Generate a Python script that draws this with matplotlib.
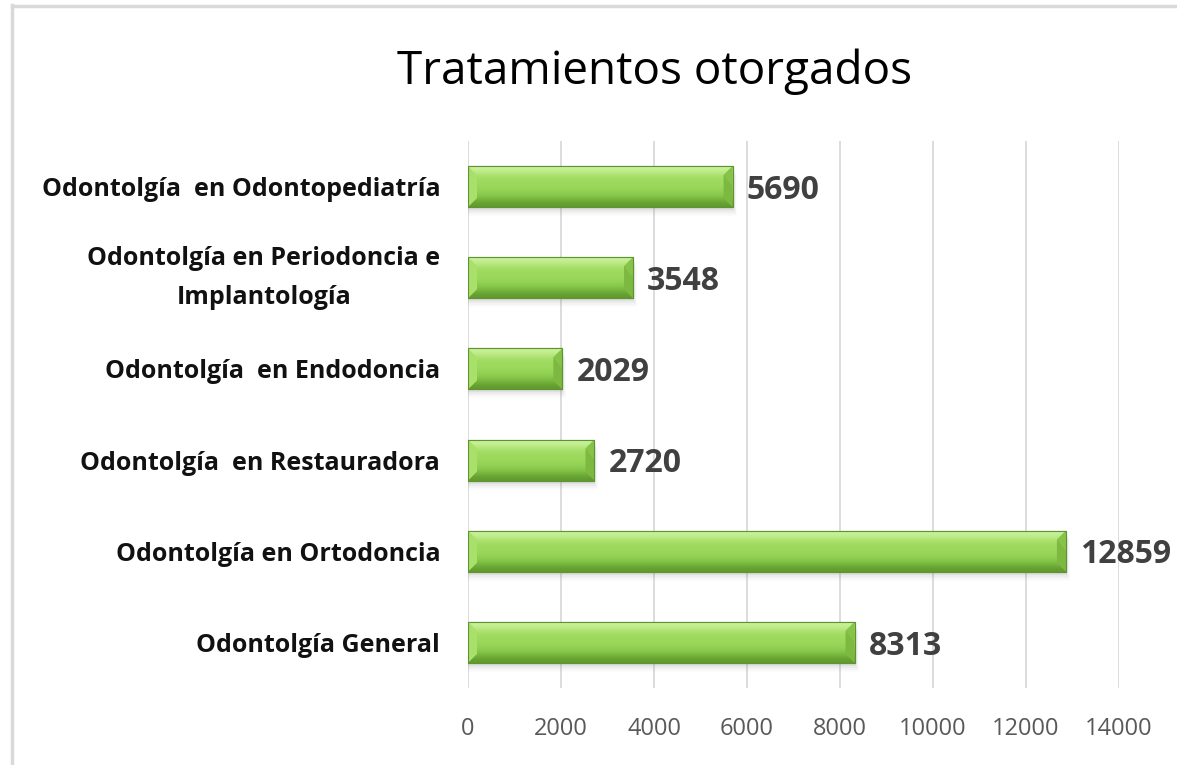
import matplotlib
matplotlib.use("Agg")
import matplotlib.pyplot as plt
import numpy as np
from matplotlib.patches import Polygon, Rectangle
from matplotlib.lines import Line2D

categories = ["Odontolgía General", "Odontolgía en Ortodoncia", "Odontolgía  en Restauradora",
              "Odontolgía  en Endodoncia", "Odontolgía en Periodoncia e\nImplantología",
              "Odontolgía  en Odontopediatría"]
values = [8313, 12859, 2720, 2029, 3548, 5690]
xticks = [0, 2000, 4000, 6000, 8000, 10000, 12000, 14000]
title = "Tratamientos otorgados"

W, H = 1177, 765
fig = plt.figure(figsize=(W / 100, H / 100), dpi=100)
fig.patch.set_facecolor("white")

# outer border (top and left light gray)
fig.add_artist(Line2D([11.5 / W, 11.5 / W], [0, 1 - 5 / H], color="#d9d9d9", lw=2.5, transform=fig.transFigure))
fig.add_artist(Line2D([11.5 / W, 1], [1 - 5.5 / H, 1 - 5.5 / H], color="#d9d9d9", lw=2.5, transform=fig.transFigure))

left, right, top, bottom = 468, 1119, 141, 688
ax = fig.add_axes([left / W, 1 - bottom / H, (right - left) / W, (bottom - top) / H])
ax.set_xlim(0, 14000)
ax.set_ylim(-0.5, len(categories) - 0.5)
for s in ax.spines.values():
    s.set_visible(False)
ax.set_xticks(xticks)
ax.set_xticklabels([str(t) for t in xticks], fontsize=17, color="#595959", family="Open Sans")
ax.tick_params(axis="x", length=0, pad=21)
ax.tick_params(axis="y", length=0, pad=20)
ax.grid(axis="x", color="#d9d9d9", lw=1.3)
ax.set_axisbelow(True)
ax.set_yticks(range(len(categories)))
ax.set_yticklabels(categories, fontsize=18, fontweight="bold", color="#111111",
                   family="Open Sans", ha="right", multialignment="center", linespacing=1.75)
for lab in ax.get_yticklabels():
    if "\n" in lab.get_text():
        lab.set_va("center")

bh = 0.45
px_x = 14000 / (right - left)
px_y = 6.0 / (bottom - top)
bars = ax.barh(range(len(categories)), values, height=bh, color="#9bd85a",
               edgecolor="#6a9e35", linewidth=0.8, zorder=3)

# gradient colors (top to bottom)
grad = np.array([
    [0.80, 0.95, 0.62],
    [0.72, 0.91, 0.50],
    [0.63, 0.86, 0.38],
    [0.61, 0.85, 0.36],
    [0.60, 0.84, 0.35],
    [0.55, 0.80, 0.31],
    [0.47, 0.72, 0.24],
    [0.38, 0.60, 0.18],
])
gimg = grad[:, None, :]

for i, (b, v) in enumerate(zip(bars, values)):
    y0 = i - bh / 2
    y1 = i + bh / 2
    # shadow
    for k, a in enumerate([0.10, 0.07, 0.05, 0.03]):
        off = (3 + 2 * k) * px_y
        ax.add_patch(Rectangle((0, y0 - off), v + (1 + k) * px_x, bh, color="#808080",
                               alpha=a, lw=0, zorder=2))
    im = ax.imshow(gimg, extent=[0, v, y0, y1], origin="upper", aspect="auto",
                   interpolation="bicubic", zorder=3.5)
    im.set_clip_path(b)
    bx = 9 * px_x
    by = 9 * px_y
    # right bevel
    ax.add_patch(Polygon([[v - bx, y0 + by], [v, y0], [v, y1], [v - bx, y1 - by]],
                         closed=True, color="#7db941", lw=0, zorder=4))
    ax.add_patch(Polygon([[v - bx, y1 - by], [v, y1], [v, y0 + (y1 - y0) * 0.5]],
                         closed=True, color="#8fca4f", lw=0, zorder=4, alpha=0.6))
    # left bevel
    ax.add_patch(Polygon([[bx, y0 + by], [0, y0], [0, y1], [bx, y1 - by]],
                         closed=True, color="#a9e06c", lw=0, zorder=4))
    # outline
    ax.add_patch(Rectangle((0, y0), v, bh, fill=False, edgecolor="#5f9230", lw=0.8, zorder=5))
    ax.text(v + 14 * px_x, i - 0.04, str(v), va="center", ha="left", fontsize=23,
            fontweight="bold", color="#404040", family="Open Sans", zorder=6)

fig.text(655 / W, 1 - 72 / H, title, ha="center", va="center", fontsize=33,
         color="#000000", family="Open Sans")

fig.savefig("out.png", dpi=100, facecolor="white")
